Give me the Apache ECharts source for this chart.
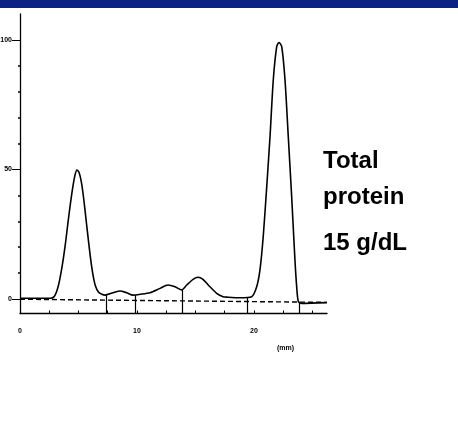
<!DOCTYPE html>
<html>
<head>
<meta charset="utf-8">
<script src="https://cdn.jsdelivr.net/npm/echarts@6/dist/echarts.min.js"></script>
<style>
html,body{margin:0;padding:0;background:#fff;}
#c{width:458px;height:431px;}
</style>
</head>
<body>
<div id="c"></div>
<script>
// Densitometer trace (distance in mm vs. relative absorbance)
var curveX = [0, 1.5, 2.6, 2.9, 3.1, 3.3, 3.5, 3.7, 3.9, 4.1, 4.3, 4.5, 4.7, 4.87, 5.05, 5.25, 5.45, 5.65, 5.85, 6.05, 6.25, 6.45, 6.7, 7.0, 7.26, 7.95, 8.55, 9.12, 9.66, 10.26, 11.11, 11.97, 12.65, 13.25, 13.82, 14.25, 14.79, 15.21, 15.64, 16.24, 16.81, 17.35, 17.78, 18.8, 19.80, 20.23, 20.51, 20.79, 21.09, 21.37, 21.65, 21.94, 22.14, 22.37, 22.65, 22.93, 23.22, 23.50, 23.65, 23.79, 24.08, 26.24];
var curveY = [0.3, 0.3, 0.3, 0.8, 2.5, 5.5, 10.0, 15.5, 22.0, 29.5, 36.5, 42.8, 47.8, 49.8, 48.8, 45.0, 38.5, 30.5, 22.5, 15.0, 9.0, 5.0, 2.7, 1.8, 1.5, 2.4, 3.1, 2.4, 1.5, 1.8, 2.4, 4.1, 5.4, 4.7, 3.5, 5.4, 7.6, 8.4, 7.6, 4.7, 2.2, 0.9, 0.7, 0.5, 0.9, 4.7, 11.2, 24.1, 43.4, 62.7, 84.6, 97.4, 99.0, 97.4, 84.6, 62.7, 39.5, 15.1, 4.7, -1.0, -1.7, -1.4];
var baselineX = [0, 26.24];
var baselineY = [-0.1, -1.3];
var dividerX = [7.35, 9.83, 13.85, 19.4, 23.85];
var dividerTop = [1.5, 1.5, 3.5, 0.5, -1.2];
var xTickValues = [0, 2.5, 5, 7.5, 10, 12.5, 15, 17.5, 20, 22.5, 25];
var xLabelValues = [0, 10, 20];
var yMajorValues = [0, 50, 100];
var yMinorValues = [10, 20, 30, 40, 60, 70, 80, 90];
var annotation = ['Total', 'protein', '15 g/dL'];
var unitLabel = '(mm)';

var Y_MIN = -5.6, Y_MAX = 110, X_MAX = 26.24;

var curve = curveX.map(function (x, i) { return [x, curveY[i]]; });
var baseline = baselineX.map(function (x, i) { return [x, baselineY[i]]; });
var dividerLines = dividerX.map(function (x, i) {
  return [{ coord: [x, dividerTop[i]] }, { coord: [x, Y_MIN] }];
});

var chart = echarts.init(document.getElementById('c'), null, { renderer: 'canvas' });
var axisFont = { color: '#000', fontSize: 7, fontWeight: 'bold', fontFamily: 'Liberation Sans' };
chart.setOption({
  animation: false,
  backgroundColor: '#fff',
  grid: { left: 20, top: 14, right: 131, bottom: 117.5, containLabel: false, outerBoundsMode: 'none' },
  xAxis: {
    type: 'value', min: 0, max: X_MAX,
    axisLine: { show: true, onZero: false, lineStyle: { color: '#000', width: 1.3 } },
    axisTick: { show: true, inside: true, length: 3, customValues: xTickValues, lineStyle: { color: '#000', width: 1 } },
    axisLabel: Object.assign({ customValues: xLabelValues, margin: 14 }, axisFont),
    splitLine: { show: false }
  },
  yAxis: [{
    type: 'value', min: Y_MIN, max: Y_MAX, position: 'left',
    axisLine: { show: true, onZero: false, lineStyle: { color: '#000', width: 1.3 } },
    axisTick: { show: true, inside: false, length: 8, customValues: yMajorValues, lineStyle: { color: '#000', width: 1 } },
    axisLabel: Object.assign({ customValues: yMajorValues, margin: 8 }, axisFont),
    splitLine: { show: false }
  }, {
    type: 'value', min: Y_MIN, max: Y_MAX, position: 'left', offset: 0,
    axisLine: { show: false },
    axisTick: { show: true, inside: false, length: 2, customValues: yMinorValues, lineStyle: { color: '#000', width: 1.5 } },
    axisLabel: { show: false },
    splitLine: { show: false }
  }],
  series: [{
    type: 'line', data: baseline, symbol: 'none', silent: true,
    lineStyle: { color: '#000', width: 1.4, type: [5, 3] }
  }, {
    type: 'line', data: curve, symbol: 'none', smooth: 0.25, silent: true,
    lineStyle: { color: '#000', width: 1.6 },
    markLine: {
      silent: true, symbol: ['none', 'none'], label: { show: false },
      lineStyle: { color: '#000', width: 1.2, type: 'solid' },
      data: dividerLines
    }
  }],
  graphic: [
    { type: 'rect', left: 0, top: 0, shape: { width: 458, height: 8 }, style: { fill: '#0b2284' } },
    { type: 'text', x: 323, y: 161.5, style: { text: annotation[0], fill: '#000', font: 'bold 24px "Liberation Sans"', verticalAlign: 'middle' } },
    { type: 'text', x: 323, y: 197.5, style: { text: annotation[1], fill: '#000', font: 'bold 24px "Liberation Sans"', verticalAlign: 'middle' } },
    { type: 'text', x: 323, y: 243.5, style: { text: annotation[2], fill: '#000', font: 'bold 24px "Liberation Sans"', verticalAlign: 'middle' } },
    { type: 'text', x: 277, y: 348.5, style: { text: unitLabel, fill: '#000', font: 'bold 7px "Liberation Sans"', verticalAlign: 'middle' } }
  ]
});
</script>
</body>
</html>
